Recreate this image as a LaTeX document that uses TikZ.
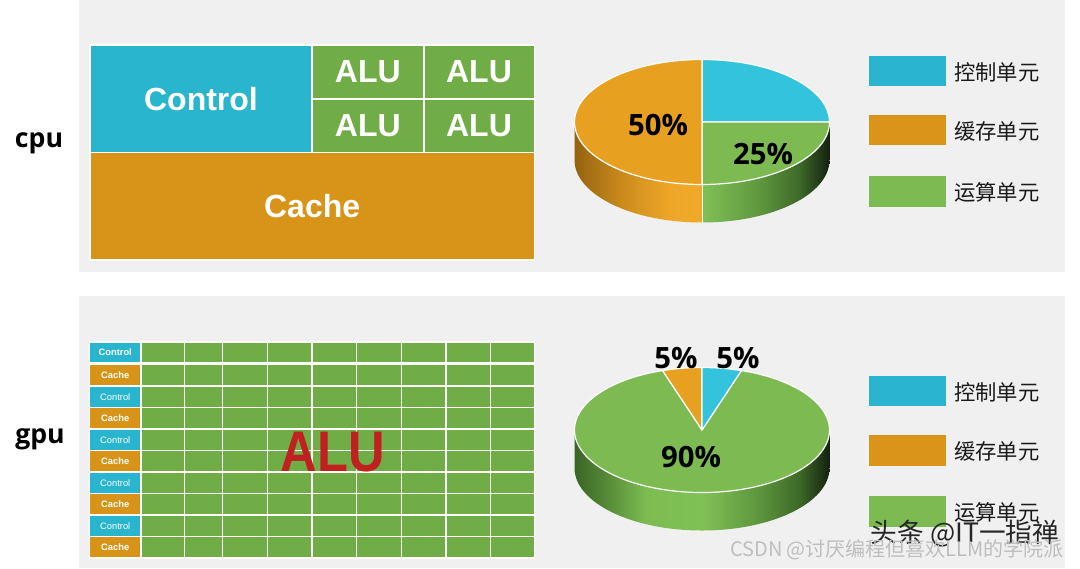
\documentclass[tikz,border=0pt]{standalone}
\usepackage{fontspec}
\newfontfamily\arial{Liberation Sans}
\newfontfamily\cjk{Noto Sans CJK SC}
\newfontfamily\nsans{Open Sans}[BoldFont={Open Sans Bold}]
\usetikzlibrary{calc}
\definecolor{bgpanel}{HTML}{F0F0F0}
\definecolor{ccyan}{HTML}{29B5CE}
\definecolor{corange}{HTML}{D89418}
\definecolor{cgreen}{HTML}{70AD47}
\definecolor{pcyan}{HTML}{33C3DC}
\definecolor{porange}{HTML}{E8A020}
\definecolor{pgreen}{HTML}{7DBB52}
\definecolor{lcyan}{HTML}{2AB4CF}
\definecolor{lorange}{HTML}{D99419}
\definecolor{lgreen}{HTML}{7CBB51}
\definecolor{alured}{HTML}{C0201F}
\definecolor{wmgray}{HTML}{BEBEBE}
% side-wall shading colours
\definecolor{sgA}{HTML}{3A6526}
\definecolor{sgB}{HTML}{4F8234}
\definecolor{sgC}{HTML}{7CBC51}
\definecolor{sgD}{HTML}{80C156}
\definecolor{sgE}{HTML}{5E963E}
\definecolor{sgF}{HTML}{3E6A29}
\definecolor{sgG}{HTML}{142210}
\definecolor{soA}{HTML}{94620F}
\definecolor{soB}{HTML}{C98A1C}
\definecolor{soC}{HTML}{EEA628}
\definecolor{soD}{HTML}{F0AA2A}
\pgfdeclarehorizontalshading{gpuside}{100bp}{color(0bp)=(sgA); color(25bp)=(sgA); color(30bp)=(sgB); color(39bp)=(sgC); color(50bp)=(sgD); color(61bp)=(sgE); color(69bp)=(sgF); color(75bp)=(sgG); color(100bp)=(sgG)}
\pgfdeclarehorizontalshading{cpuorside}{100bp}{color(0bp)=(soA); color(25bp)=(soA); color(43bp)=(soB); color(62bp)=(soC); color(75bp)=(soD); color(100bp)=(soD)}
\pgfdeclarehorizontalshading{cpugrside}{100bp}{color(0bp)=(sgD); color(25bp)=(sgD); color(48bp)=(sgE); color(63bp)=(sgF); color(75bp)=(sgG); color(100bp)=(sgG)}
\def\rx{127.5}\def\ry{62.5}\def\pdep{38}
\newcommand\pieat[2]{($(#1)+({\rx*cos(#2)},{\ry*sin(#2)})$)}
\newcommand\rectnode[7]{\node[#6, minimum width={(#4-#2)*0.75}, minimum height={(#5-#3)*0.75}] (#1) at ({(#2+#4)/2},{(#3+#5)/2}) {#7};}
\begin{document}
\begin{tikzpicture}[x=0.75pt,y=-0.75pt,
  blk/.style={inner sep=0pt, draw=white, line width=1.2pt},
  gcell/.style={inner sep=0pt, draw=white, line width=0.9pt},
  bigw/.style={text=white, font=\arial\bfseries\fontsize{24}{28}\selectfont},
  smallw/.style={text=white, font=\arial\fontsize{7}{8}\selectfont},
  legbox/.style={inner sep=0pt},
  legtxt/.style={anchor=west, inner sep=0pt, text=black!90, font=\cjk\fontsize{16}{18}\selectfont},
  pct/.style={anchor=base, inner sep=0pt, text=black, font=\nsans\bfseries\fontsize{22}{24}\selectfont},
  side/.style={anchor=base, inner sep=0pt, text=black, font=\nsans\bfseries\fontsize{20}{22}\selectfont},
  slice/.style={draw=white, line width=0.9pt, line join=round},
]
\useasboundingbox (0,0) rectangle (1080,568);
\fill[white] (0,0) rectangle (1080,568);
\fill[bgpanel] (79,0) rectangle (1065,271.7);
\fill[bgpanel] (79,296) rectangle (1065,568);

% side labels
\node[side] (cpu) at (39,147) {cpu};
\node[side] (gpu) at (40,443.5) {gpu};

% CPU blocks
\rectnode{ctrl}{90}{45}{312}{152.5}{blk, fill=ccyan, bigw}{Control}
\rectnode{alu1}{312}{45}{423.7}{98.8}{blk, fill=cgreen, bigw}{ALU}
\rectnode{alu2}{423.7}{45}{534.3}{98.8}{blk, fill=cgreen, bigw}{ALU}
\rectnode{alu3}{312}{98.8}{423.7}{152.5}{blk, fill=cgreen, bigw}{ALU}
\rectnode{alu4}{423.7}{98.8}{534.3}{152.5}{blk, fill=cgreen, bigw}{ALU}
\rectnode{cache}{90}{152.5}{534.3}{260}{blk, fill=corange, bigw}{Cache}

% GPU grid
\foreach \r/\yt/\yb in {1/342/363, 2/364.5/386, 3/386/407.5, 4/407.5/429, 5/429/450.5, 6/450.5/472, 7/472/493.5, 8/493.5/515, 9/515/536.5, 10/536.5/558}{
  \foreach \c/\xa/\xb in {1/141/184.3, 2/184.3/222.7, 3/222.7/267.3, 4/267.3/312, 5/312/356.3, 6/356.3/401.3, 7/401.3/446, 8/446/490.7, 9/490.7/534.3}{
    \rectnode{g\r-\c}{\xa}{\yt}{\xb}{\yb}{gcell, fill=cgreen}{}
  }
}
\foreach \r/\yt/\yb/\col/\lab in {1/342/363/ccyan/{\bfseries Control}, 2/364.5/386/corange/{\bfseries Cache}, 3/386/407.5/ccyan/Control, 4/407.5/429/corange/{\bfseries Cache}, 5/429/450.5/ccyan/Control, 6/450.5/472/corange/{\bfseries Cache}, 7/472/493.5/ccyan/Control, 8/493.5/515/corange/{\bfseries Cache}, 9/515/536.5/ccyan/Control, 10/536.5/558/corange/{\bfseries Cache}}{
  \rectnode{lab\r}{89.5}{\yt}{141}{\yb}{gcell, fill=\col, smallw}{\lab}
}
\node[text=alured, inner sep=0pt, font=\arial\bfseries\fontsize{38}{40}\selectfont] (alubig) at (333,452) {\scalebox{1}[1.13]{ALU}};

% CPU pie
\coordinate (P1) at (702,122);
\shade[shading=cpuorside] \pieat{P1}{90} arc[start angle=90,end angle=180,x radius=\rx,y radius=\ry] -- ++(0,\pdep) arc[start angle=180,end angle=90,x radius=\rx,y radius=\ry] -- cycle;
\shade[shading=cpugrside] \pieat{P1}{0} arc[start angle=0,end angle=90,x radius=\rx,y radius=\ry] -- ++(0,\pdep) arc[start angle=90,end angle=0,x radius=\rx,y radius=\ry] -- cycle;
\draw[white, line width=0.6pt] \pieat{P1}{90} -- ++(0,\pdep);
\draw[slice, fill=pcyan] (P1) -- \pieat{P1}{270} arc[start angle=270,end angle=360,x radius=\rx,y radius=\ry] -- cycle;
\draw[slice, fill=pgreen] (P1) -- \pieat{P1}{0} arc[start angle=0,end angle=90,x radius=\rx,y radius=\ry] -- cycle;
\draw[slice, fill=porange] (P1) -- \pieat{P1}{90} arc[start angle=90,end angle=270,x radius=\rx,y radius=\ry] -- cycle;
\node[pct] (p50) at (658,135) {50\%};
\node[pct] (p25) at (763,164.3) {25\%};

% GPU pie
\coordinate (P2) at (702,430);
\shade[shading=gpuside] \pieat{P2}{0} arc[start angle=0,end angle=180,x radius=\rx,y radius=\ry] -- ++(0,\pdep) arc[start angle=180,end angle=0,x radius=\rx,y radius=\ry] -- cycle;
\draw[slice, fill=pgreen] (P2) -- \pieat{P2}{-72} arc[start angle=-72,end angle=252,x radius=\rx,y radius=\ry] -- cycle;
\draw[slice, fill=porange] (P2) -- \pieat{P2}{252} arc[start angle=252,end angle=270,x radius=\rx,y radius=\ry] -- cycle;
\draw[slice, fill=pcyan] (P2) -- \pieat{P2}{270} arc[start angle=270,end angle=288,x radius=\rx,y radius=\ry] -- cycle;
\node[pct] (p5a) at (676,368.3) {5\%};
\node[pct] (p5b) at (738,368.3) {5\%};
\node[pct] (p90) at (691,467.3) {90\%};

% legends
\rectnode{lc1}{869}{55.5}{945.5}{86}{legbox, fill=lcyan}{}
\rectnode{lo1}{869}{115}{945.5}{145.3}{legbox, fill=lorange}{}
\rectnode{lg1}{869}{176}{945.5}{206.7}{legbox, fill=lgreen}{}
\node[legtxt] (tc1) at (954,72) {控制单元};
\node[legtxt] (to1) at (954,131) {缓存单元};
\node[legtxt] (tg1) at (954,192) {运算单元};
\rectnode{lc2}{869}{375.5}{945.5}{406}{legbox, fill=lcyan}{}
\rectnode{lo2}{869}{435}{945.5}{466}{legbox, fill=lorange}{}
\rectnode{lg2}{869}{496}{945.5}{527}{legbox, fill=lgreen}{}
\node[legtxt] (tc2) at (954,392) {控制单元};
\node[legtxt] (to2) at (954,451) {缓存单元};
\node[legtxt] (tg2) at (954,512) {运算单元};

% watermarks
\node[inner sep=0pt, text=black!85, font=\cjk\fontsize{20}{22}\selectfont] (wm1) at (965,534) {头条 @IT一指禅};
\node[inner sep=0pt, text=wmgray, font=\cjk\fontsize{15}{17}\selectfont] (wm2) at (897,550) {CSDN @讨厌编程但喜欢LLM的学院派};
\end{tikzpicture}
\end{document}
